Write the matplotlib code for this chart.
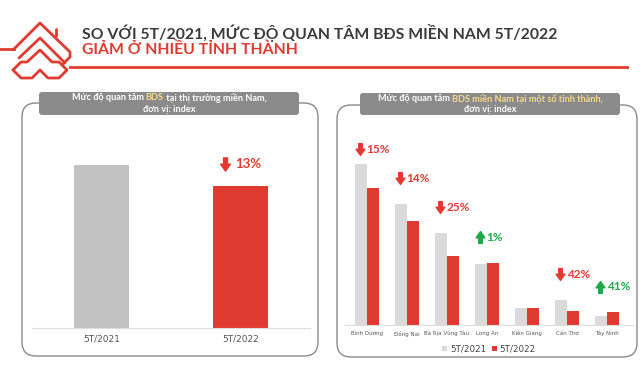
import matplotlib
matplotlib.use("Agg")
import matplotlib.pyplot as plt
from matplotlib.patches import FancyBboxPatch
from matplotlib.path import Path

# ---------------- data ----------------
title_line1 = "SO VỚI 5T/2021, MỨC ĐỘ QUAN TÂM BĐS MIỀN NAM 5T/2022"
title_line2 = "GIẢM Ở NHIỀU TỈNH THÀNH"

left_categories = ["5T/2021", "5T/2022"]
left_values = [100, 87]
left_change = "13%"

provinces = ["Bình Dương", "Đồng Nai", "Bà Rịa Vũng Tàu", "Long An",
             "Kiên Giang", "Cần Thơ", "Tây Ninh"]
values_2021 = [100, 75, 57, 38, 10.5, 15.5, 5.5]
values_2022 = [85, 64.5, 43, 38.5, 10.5, 9, 7.8]
change_labels = ["15%", "14%", "25%", "1%", None, "42%", "41%"]
change_up = [False, False, False, True, None, False, True]
series_names = ["5T/2021", "5T/2022"]

# ---------------- style ----------------
W, H = 640, 367
RED = "#e03b30"
GREEN = "#1fa74a"
GRAY_L = "#c2c2c2"
GRAY_R = "#dadada"
HEAD = "#8b8b8b"
YEL = "#f7d98a"
DARK = "#3b3b3b"
FONT = "Lato"
NARROW = ["Liberation Sans Narrow", "DejaVu Sans"]

plt.rcParams["font.family"] = [FONT, "DejaVu Sans"]

fig = plt.figure(figsize=(W / 100, H / 100), dpi=100)
bg = fig.add_axes([0, 0, 1, 1])
bg.set_xlim(0, W)
bg.set_ylim(H, 0)
bg.axis("off")


def px_axes(x0, y0, x1, y1, z=2):
    return fig.add_axes([x0 / W, 1 - y1 / H, (x1 - x0) / W, (y1 - y0) / H], zorder=z)


# ---- logo & title ----
def poly(pts, lw=2.0):
    xs = [p[0] for p in pts]
    ys = [p[1] for p in pts]
    bg.plot(xs, ys, color=RED, lw=lw, solid_joinstyle="round", solid_capstyle="round")

poly([(13, 50), (40, 23), (70, 52), (70, 57), (63, 64)])
poly([(56, 36), (56, 29)])
poly([(19, 58), (40, 38), (65, 63)])
poly([(13, 70), (21, 62), (27, 62), (40, 50), (52, 62), (59, 62), (67, 70),
      (59, 78), (48, 78), (40, 70), (32, 78), (21, 78), (13, 70)])
bg.plot([0, 14], [49, 49], color=RED, lw=2)
bg.plot([70, 627], [67, 67], color=RED, lw=2)

bg.text(82, 33, title_line1, fontsize=11.3, fontweight="bold", color=DARK,
        va="center", ha="left")
bg.text(82, 49, title_line2, fontsize=11.3, fontweight="bold", color=RED,
        va="center", ha="left")

# ---- panels ----
for (x0, y0, x1, y1) in [(22, 103, 318, 356), (337, 105, 637, 357)]:
    bg.add_patch(FancyBboxPatch((x0, y0), x1 - x0, y1 - y0,
                                boxstyle="round,pad=0,rounding_size=14",
                                fc="white", ec="#8a8a8a", lw=1.0, zorder=1))


def header(x0, y0, x1, y1, lines):
    bg.add_patch(FancyBboxPatch((x0, y0), x1 - x0, y1 - y0,
                                boxstyle="round,pad=0,rounding_size=3",
                                fc=HEAD, ec="none", zorder=3))
    cx = (x0 + x1) / 2
    ny = len(lines)
    renderer = fig.canvas.get_renderer()
    inv = bg.transData.inverted()
    for k, segs in enumerate(lines):
        yy = y0 + (y1 - y0) * (k + 0.5) / ny
        texts = []
        for s, c in segs:
            t = bg.text(0, yy, s, fontsize=6.6, fontweight="bold", color=c,
                        va="center", ha="left", zorder=4)
            texts.append(t)
        widths = []
        for t in texts:
            bb = t.get_window_extent(renderer=renderer)
            (a, _), (b, _) = inv.transform([(bb.x0, bb.y0), (bb.x1, bb.y0)])
            widths.append(b - a)
        x = cx - sum(widths) / 2
        for t, w in zip(texts, widths):
            t.set_x(x)
            x += w


header(39, 92, 299, 115, [
    [("Mức độ quan tâm ", "white"), ("BDS", YEL), (" tại thị trường miền Nam,", "white")],
    [("đơn vị: index", "white")],
])
header(360, 93, 620, 115, [
    [("Mức độ quan tâm ", "white"), ("BDS miền Nam tại một số tỉnh thành,", YEL)],
    [("đơn vị: index", "white")],
])

# arrow marker
down_arrow = Path([(-0.3, 1), (0.3, 1), (0.3, 0.05), (0.75, 0.05), (0, -1),
                   (-0.75, 0.05), (-0.3, 0.05), (-0.3, 1)],
                  [Path.MOVETO] + [Path.LINETO] * 6 + [Path.CLOSEPOLY])
up_arrow = Path([(x, -y) for x, y in down_arrow.vertices], down_arrow.codes)

# ---- left chart ----
axL = px_axes(32, 130, 310, 328)
xl = range(len(left_categories))
axL.bar(xl, left_values, width=0.4, color=[GRAY_L, RED])
axL.set_xlim(-0.5, 1.5)
axL.set_ylim(0, 121.5)
axL.set_xticks(list(xl))
axL.set_xticklabels(left_categories, fontsize=6.5, color="#555555", family=NARROW)
axL.tick_params(axis="x", length=0, pad=5)
axL.set_yticks([])
for s in ["top", "right", "left"]:
    axL.spines[s].set_visible(False)
axL.spines["bottom"].set_color("#dddddd")
axL.patch.set_alpha(0)
axL.plot([0.89], [left_values[1] + 13.5], marker=down_arrow, ms=9.5, color=RED, ls="none")
axL.text(0.96, left_values[1] + 13.5, left_change, fontsize=9.5, fontweight="bold",
         color=RED, va="center", ha="left")

# ---- right chart ----
axR = px_axes(345, 140, 633, 325)
n = len(provinces)
xs = list(range(n))
bw = 0.29
axR.bar([x - bw / 2 for x in xs], values_2021, width=bw, color=GRAY_R, label=series_names[0])
axR.bar([x + bw / 2 for x in xs], values_2022, width=bw, color=RED, label=series_names[1])
axR.set_xlim(-0.55, 6.65)
axR.set_ylim(0, 114.9)
axR.set_xticks(xs)
axR.set_xticklabels(provinces, fontsize=4.0, color="#555555", family=NARROW)
axR.tick_params(axis="x", length=0, pad=4)
axR.set_yticks([])
for s in ["top", "right", "left"]:
    axR.spines[s].set_visible(False)
axR.spines["bottom"].set_color("#dddddd")
axR.patch.set_alpha(0)

for i, (lab, up) in enumerate(zip(change_labels, change_up)):
    if lab is None:
        continue
    top = max(values_2021[i], values_2022[i])
    y = min(top + 16, 109)
    col = GREEN if up else RED
    axR.plot([i - 0.18], [y], marker=up_arrow if up else down_arrow, ms=8.5,
             color=col, ls="none", clip_on=False)
    axR.text(i - 0.01, y, lab, fontsize=8.5, fontweight="bold", color=col,
             va="center", ha="left", clip_on=False)

leg = axR.legend(loc="upper center", bbox_to_anchor=(0.5, -0.065), ncol=2,
                 frameon=False, handlelength=0.55, handleheight=0.55,
                 handletextpad=0.3, columnspacing=0.7,
                 prop={"family": NARROW, "size": 6.3})
for t in leg.get_texts():
    t.set_color("#444444")

fig.savefig("out.png", dpi=100)
